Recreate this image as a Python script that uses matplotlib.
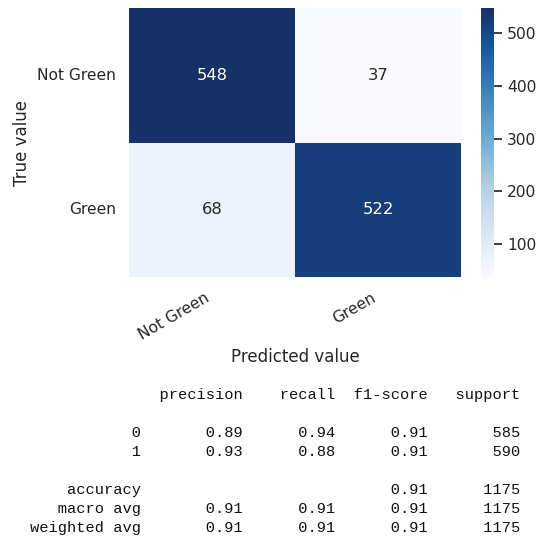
import numpy as np
import matplotlib
matplotlib.use("Agg")
import matplotlib.pyplot as plt
from matplotlib.colors import ListedColormap
import seaborn as sns

# Confusion matrix counts (rows: true, columns: predicted)
class_names = ["Not Green", "Green"]
cm_row_not_green = [548, 37]
cm_row_green = [68, 522]

# Classification report values
report_labels = ["0", "1"]
precision = [0.89, 0.93]
recall = [0.94, 0.88]
f1_score = [0.91, 0.91]
support = [585, 590]
accuracy = 0.91
macro_avg = [0.91, 0.91, 0.91]
weighted_avg = [0.91, 0.91, 0.91]
total_support = 1175

sns.set_theme()
plt.rcParams["font.family"] = ["DejaVu Sans"]

# Blues with a slightly softened navy end
base = plt.get_cmap("Blues")(np.linspace(0, 1, 256))
base[:, 0] = base[:, 0] + 0.06 * (1 - base[:, 0])
base[:, 2] = base[:, 2] - 0.04 * (1 - base[:, 2])
cmap = ListedColormap(base)

fig = plt.figure(figsize=(5.37, 5.41), dpi=100)
ax = fig.add_axes([129 / 537, 1 - 277 / 541, 332 / 537, 269 / 541])
cax = fig.add_axes([481 / 537, 1 - 277 / 541, 13 / 537, 269 / 541])

cm = np.array([cm_row_not_green, cm_row_green])
sns.heatmap(cm, annot=True, fmt="d", cmap=cmap, ax=ax, cbar_ax=cax,
            xticklabels=class_names, yticklabels=class_names,
            annot_kws={"fontsize": 11.8})

ax.tick_params(axis="both", labelsize=11.2)
cax.tick_params(labelsize=11.2)
plt.setp(ax.get_xticklabels(), rotation=30, ha="right")
plt.setp(ax.get_yticklabels(), rotation=0)
ax.set_xlabel("Predicted value", fontsize=12, labelpad=4)
ax.set_ylabel("True value", fontsize=12)

# Text report in the sklearn layout
width = 12
lines = []
lines.append(f"{'':>{width}s} " + "".join(f" {h:>9}" for h in ["precision", "recall", "f1-score", "support"]))
lines.append("")
for lab, p, r, f, s in zip(report_labels, precision, recall, f1_score, support):
    lines.append(f"{lab:>{width}s} " + f" {p:>9.2f}" + f" {r:>9.2f}" + f" {f:>9.2f}" + f" {s:>9}")
lines.append("")
lines.append(f"{'accuracy':>{width}s} " + f" {'':>9}" * 2 + f" {accuracy:>9.2f}" + f" {total_support:>9}")
for name, vals in [("macro avg", macro_avg), ("weighted avg", weighted_avg)]:
    lines.append(f"{name:>{width}s} " + "".join(f" {v:>9.2f}" for v in vals) + f" {total_support:>9}")

y0 = 395
pitch = 19
for i, line in enumerate(lines):
    if not line:
        continue
    fig.text(30.5 / 537, 1 - (y0 + i * pitch) / 541, line, family="Liberation Mono",
             fontsize=11.1, color="#111111", ha="left", va="center")

fig.savefig("out.png", dpi=100)
